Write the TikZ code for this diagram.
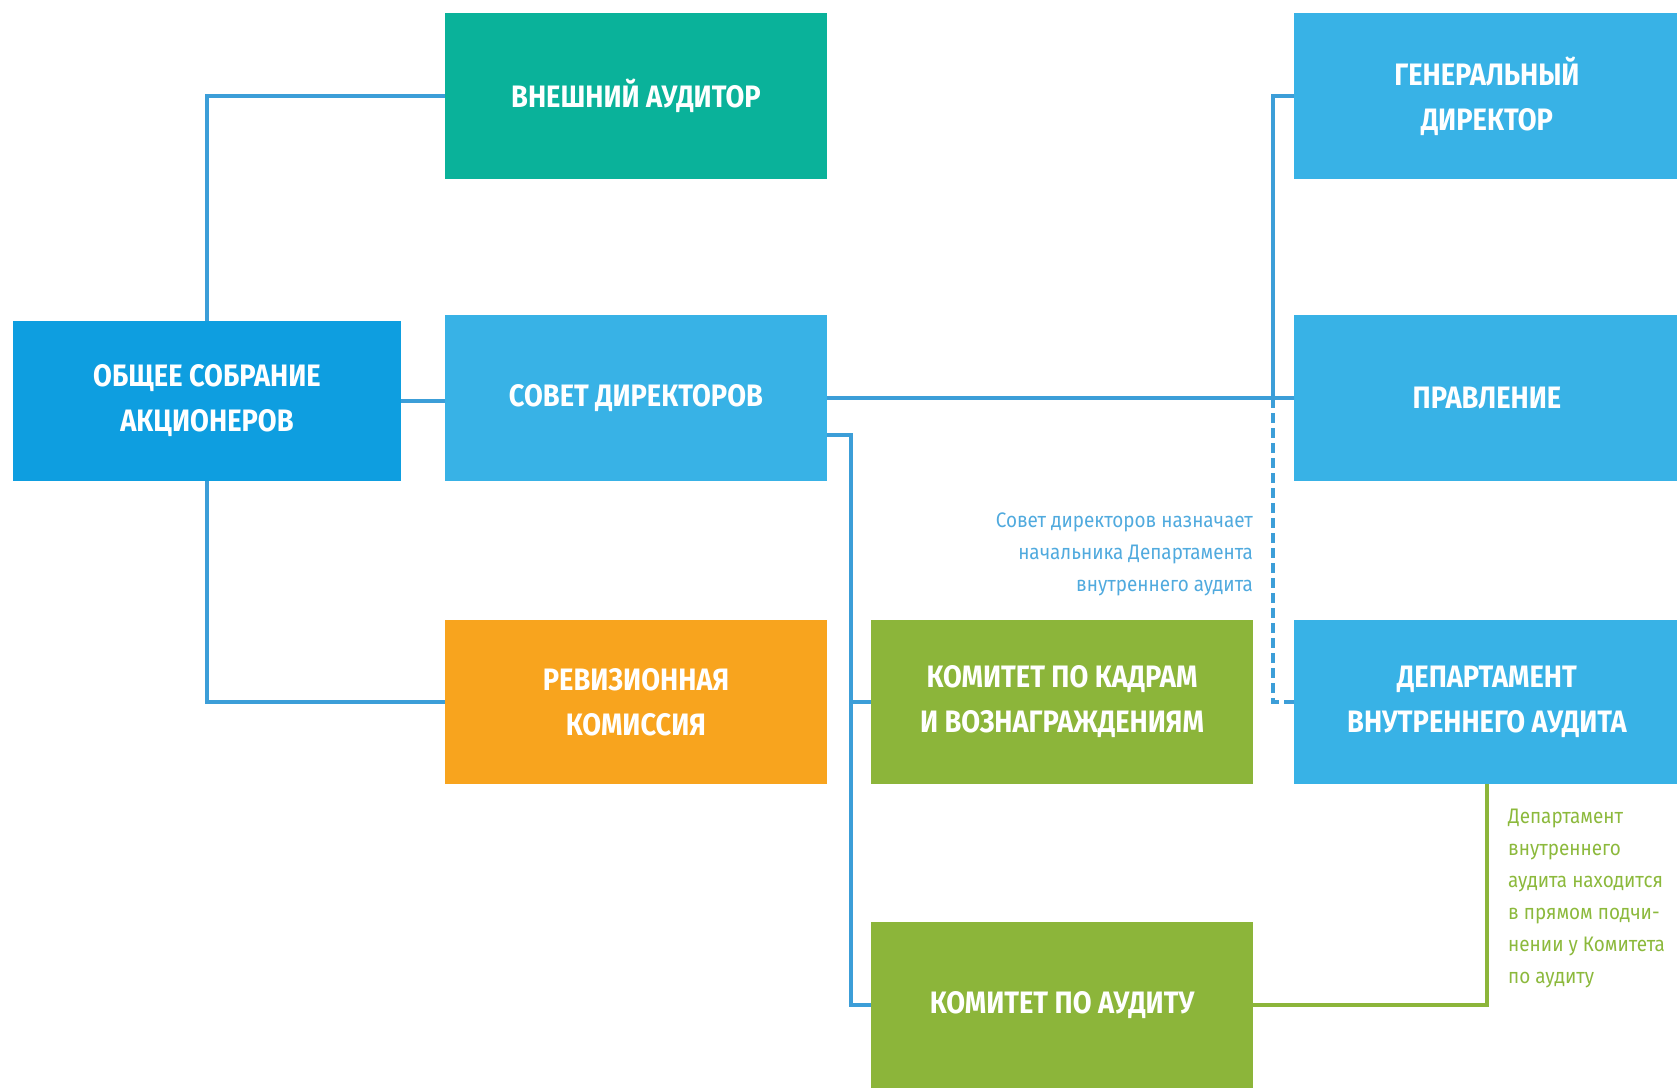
\documentclass[tikz,border=0pt]{standalone}
\usepackage{fontspec}
\setmainfont{Fira Sans}
\newfontfamily\boxfont{Fira Sans}[FakeStretch=0.88]
\newfontfamily\notefont{Fira Sans}[FakeStretch=0.9]
\definecolor{bluedark}{RGB}{14,158,224}
\definecolor{bluelight}{RGB}{56,178,230}
\definecolor{teal}{RGB}{10,178,154}
\definecolor{orange}{RGB}{248,164,30}
\definecolor{green}{RGB}{140,181,58}
\definecolor{linec}{RGB}{60,158,216}
\definecolor{noteblue}{RGB}{80,170,222}
\definecolor{notegreen}{RGB}{140,185,60}
\tikzset{
  box/.style={rectangle, inner sep=0pt, minimum width=382pt, minimum height=166pt,
    text=white, align=center, font=\boxfont\bfseries\fontsize{31}{45}\selectfont},
  conn/.style={draw=linec, line width=3.8pt},
  gconn/.style={draw=green, line width=3.8pt},
  dconn/.style={draw=linec, line width=3.8pt, dash pattern=on 10pt off 5pt},
  note/.style={inner sep=0pt, font=\notefont\fontsize{21}{32}\selectfont}
}
\begin{document}
\begin{tikzpicture}[x=1pt,y=-1pt]
\useasboundingbox (0,0) rectangle (1677,1087);
\node[box, fill=bluedark, minimum width=388pt, minimum height=160pt] (gsm) at (207,401) {ОБЩЕЕ СОБРАНИЕ\\АКЦИОНЕРОВ};
\node[box, fill=teal] (ext) at (636,96) {ВНЕШНИЙ АУДИТОР};
\node[box, fill=bluelight] (sd) at (636,398) {СОВЕТ ДИРЕКТОРОВ};
\node[box, fill=orange, minimum height=164pt] (rk) at (636,702) {РЕВИЗИОННАЯ\\КОМИССИЯ};
\node[box, fill=green, minimum height=164pt] (kk) at (1062,702) {КОМИТЕТ ПО КАДРАМ\\И ВОЗНАГРАЖДЕНИЯМ};
\node[box, fill=green] (ka) at (1062,1005) {КОМИТЕТ ПО АУДИТУ};
\node[box, fill=bluelight, minimum width=386pt] (gd) at (1487,96) {ГЕНЕРАЛЬНЫЙ\\ДИРЕКТОР};
\node[box, fill=bluelight, minimum width=386pt] (pr) at (1487,398) {ПРАВЛЕНИЕ};
\node[box, fill=bluelight, minimum width=386pt, minimum height=164pt] (dva) at (1487,702) {ДЕПАРТАМЕНТ\\ВНУТРЕННЕГО АУДИТА};

\node[note, text=noteblue, align=right, anchor=east] (n1) at (1253,554)
  {Совет директоров назначает\\начальника Департамента\\внутреннего аудита};
\node[note, text=notegreen, align=left, anchor=west] (n2) at (1508,898)
  {Департамент\\внутреннего\\аудита находится\\в прямом подчи-\\нении у Комитета\\по аудиту};

\coordinate (bus) at (851,435);
\coordinate (vj) at (1273,398);

\draw[conn] (gsm.north) |- (ext.west);
\draw[conn] (gsm.south) |- (rk.west);
\draw[conn] (gsm.east) -- (gsm.east -| sd.west);
\draw[conn] (sd.east) -- (pr.west);
\draw[conn] (sd.east |- bus) -- (bus) |- (ka.west);
\draw[conn] (bus |- kk.west) -- (kk.west);
\draw[conn] (gd.west) -| (vj);
\draw[dconn] (vj) |- (dva.west);
\draw[gconn] (dva.south) |- (ka.east);
\end{tikzpicture}
\end{document}
